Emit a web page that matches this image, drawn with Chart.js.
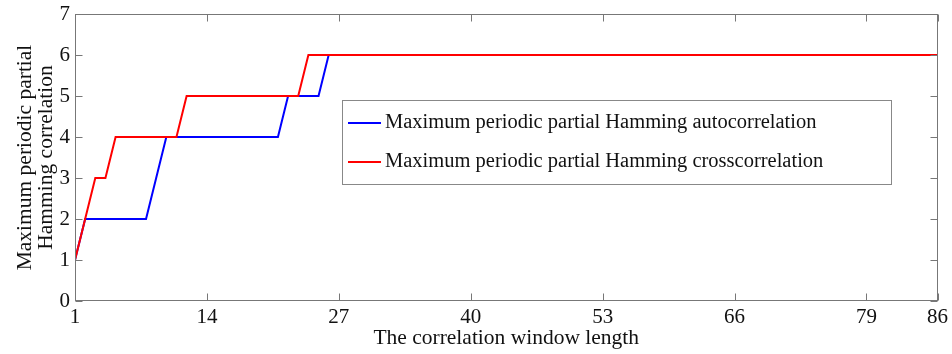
<!DOCTYPE html>
<html>
<head>
<meta charset="utf-8">
<script src="https://cdn.jsdelivr.net/npm/chart.js@4"></script>
<style>
  html, body { margin: 0; padding: 0; background: #fff; }
</style>
</head>
<body>
<canvas id="chart" width="952" height="354"></canvas>
<script>
// ================== Data ==================
const windowLength = [
  1, 2, 3, 4, 5, 6, 7, 8, 9, 10,
  11, 12, 13, 14, 15, 16, 17, 18, 19, 20,
  21, 22, 23, 24, 25, 26, 27, 28, 29, 30,
  31, 32, 33, 34, 35, 36, 37, 38, 39, 40,
  41, 42, 43, 44, 45, 46, 47, 48, 49, 50,
  51, 52, 53, 54, 55, 56, 57, 58, 59, 60,
  61, 62, 63, 64, 65, 66, 67, 68, 69, 70,
  71, 72, 73, 74, 75, 76, 77, 78, 79, 80,
  81, 82, 83, 84, 85, 86
];

// auto correlation (blue)
const autoCorr = [
  1, 2, 2, 2, 2, 2, 2, 2, 3, 4,
  4, 4, 4, 4, 4, 4, 4, 4, 4, 4,
  4, 5, 5, 5, 5, 6, 6, 6, 6, 6,
  6, 6, 6, 6, 6, 6, 6, 6, 6, 6,
  6, 6, 6, 6, 6, 6, 6, 6, 6, 6,
  6, 6, 6, 6, 6, 6, 6, 6, 6, 6,
  6, 6, 6, 6, 6, 6, 6, 6, 6, 6,
  6, 6, 6, 6, 6, 6, 6, 6, 6, 6,
  6, 6, 6, 6, 6, 6
];

// cross correlation (red)
const crossCorr = [
  1, 2, 3, 3, 4, 4, 4, 4, 4, 4,
  4, 5, 5, 5, 5, 5, 5, 5, 5, 5,
  5, 5, 5, 6, 6, 6, 6, 6, 6, 6,
  6, 6, 6, 6, 6, 6, 6, 6, 6, 6,
  6, 6, 6, 6, 6, 6, 6, 6, 6, 6,
  6, 6, 6, 6, 6, 6, 6, 6, 6, 6,
  6, 6, 6, 6, 6, 6, 6, 6, 6, 6,
  6, 6, 6, 6, 6, 6, 6, 6, 6, 6,
  6, 6, 6, 6, 6, 6
];

const xTicks = [1, 14, 27, 40, 53, 66, 79, 86];
const yTicks = [0, 1, 2, 3, 4, 5, 6, 7];

const FONT = "'Liberation Serif', 'Times New Roman', serif";

// ================== Frame + inward ticks + legend ==================
const matlabStyle = {
  id: "matlabStyle",
  afterDraw(chart) {
    const { ctx, chartArea: a, scales } = chart;
    const L = Math.round(a.left) + 0.5, R = Math.round(a.right) - 0.5;
    const T = Math.round(a.top) + 0.5, B = Math.round(a.bottom) - 0.5;
    const tl = 7;
    ctx.save();
    ctx.strokeStyle = "#777";
    ctx.lineWidth = 1;
    ctx.strokeRect(L, T, R - L, B - T);

    ctx.beginPath();
    xTicks.forEach(v => {
      const x = Math.round(scales.x.getPixelForValue(v)) + 0.5;
      ctx.moveTo(x, B); ctx.lineTo(x, B - tl);
      ctx.moveTo(x, T); ctx.lineTo(x, T + tl);
    });
    yTicks.forEach(v => {
      const y = Math.round(scales.y.getPixelForValue(v)) + 0.5;
      ctx.moveTo(L, y); ctx.lineTo(L + tl, y);
      ctx.moveTo(R, y); ctx.lineTo(R - tl, y);
    });
    ctx.stroke();

    // legend box
    const bx = 342.5, by = 100.5, bw = 549, bh = 84;
    ctx.fillStyle = "#fff";
    ctx.fillRect(bx, by, bw, bh);
    ctx.strokeStyle = "#888";
    ctx.strokeRect(bx, by, bw, bh);
    const rows = [123, 162];
    chart.data.datasets.forEach((ds, i) => {
      ctx.strokeStyle = ds.borderColor;
      ctx.lineWidth = 2;
      ctx.beginPath();
      ctx.moveTo(348, rows[i]);
      ctx.lineTo(381, rows[i]);
      ctx.stroke();
      ctx.fillStyle = "#111";
      ctx.font = "20.5px " + FONT;
      ctx.textBaseline = "middle";
      ctx.textAlign = "left";
      ctx.fillText(ds.label, 385, rows[i]);
    });
    ctx.restore();
  }
};

// ================== Chart ==================
new Chart(document.getElementById("chart"), {
  type: "line",
  data: {
    datasets: [
      {
        label: "Maximum periodic partial Hamming autocorrelation",
        data: windowLength.map((x, i) => ({ x: x, y: autoCorr[i] })),
        borderColor: "#0000ff",
        borderWidth: 2,
        pointRadius: 0,
        tension: 0,
        order: 1
      },
      {
        label: "Maximum periodic partial Hamming crosscorrelation",
        data: windowLength.map((x, i) => ({ x: x, y: crossCorr[i] })),
        borderColor: "#ff0000",
        borderWidth: 2,
        pointRadius: 0,
        tension: 0,
        order: 0
      }
    ]
  },
  options: {
    responsive: false,
    animation: false,
    layout: { padding: { left: 0, right: 14, top: 14, bottom: 0 } },
    plugins: {
      legend: { display: false },
      tooltip: { enabled: false }
    },
    scales: {
      x: {
        type: "linear",
        min: 1,
        max: 86,
        afterBuildTicks: s => { s.ticks = xTicks.map(v => ({ value: v })); },
        afterFit: s => { s.height = 53; },
        grid: { display: false, drawTicks: false },
        border: { display: false },
        ticks: { color: "#111", font: { family: FONT, size: 21 }, padding: 4, maxRotation: 0, autoSkip: false },
        title: {
          display: true,
          text: "The correlation window length",
          color: "#111",
          font: { family: FONT, size: 21.5, lineHeight: 1 },
          padding: { top: 0, bottom: 5 }
        }
      },
      y: {
        min: 0,
        max: 7,
        afterBuildTicks: s => { s.ticks = yTicks.map(v => ({ value: v })); },
        afterFit: s => { s.width = 75; },
        grid: { display: false, drawTicks: false },
        border: { display: false },
        ticks: { color: "#111", font: { family: FONT, size: 21, lineHeight: 0.85 }, padding: 5 },
        title: {
          display: true,
          text: ["Maximum periodic partial", "Hamming correlation"],
          color: "#111",
          font: { family: FONT, size: 21.5, lineHeight: 0.98 },
          padding: { top: 15, bottom: 0 }
        }
      }
    }
  },
  plugins: [matlabStyle]
});
</script>
</body>
</html>
